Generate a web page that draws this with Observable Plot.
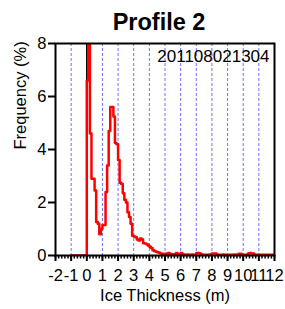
<!DOCTYPE html>
<html>
<head>
<meta charset="utf-8">
<script src="https://cdn.jsdelivr.net/npm/d3@7"></script>
<script src="https://cdn.jsdelivr.net/npm/@observablehq/plot@0.6"></script>
<style>
  html, body { margin: 0; padding: 0; background: white; }
</style>
</head>
<body>
<div id="chart"></div>
<script>
// ---- data ----
const title = "Profile 2";
const stamp = "201108021304";
const xLabel = "Ice Thickness (m)";
const yLabel = "Frequency (%)";
const xTicks = [-2, -1, 0, 1, 2, 3, 4, 5, 6, 7, 8, 9, 10, 11, 12];
const yTicks = [0, 2, 4, 6, 8];
const gridX = [-1, 0, 1, 2, 3, 4, 5, 6, 7, 8, 9, 10, 11];
// histogram: bin width 0.1 m, bins starting at 0.0 m
const binStart = 0;
const binWidth = 0.1;
const freq = [
  6.6, 9.5, 4.6, 2.9, 2.9, 2.45, 1.26, 1.2, 0.8, 1.0,      // 0.0 - 0.9
  1.15, 1.15, 2.4, 3.4, 4.7, 5.6, 5.6, 5.25, 4.25, 4.2,    // 1.0 - 1.9
  3.6, 2.75, 2.7, 2.35, 2.1, 2.0, 1.63, 1.45, 1.2, 0.75,   // 2.0 - 2.9
  0.72, 0.69, 0.6, 0.57, 0.64, 0.6, 0.46, 0.45, 0.42, 0.38,// 3.0 - 3.9
  0.33, 0.28, 0.2, 0.17, 0.14, 0.12, 0.1, 0.08, 0.07, 0.06,// 4.0 - 4.9
  0.07, 0.08, 0.09, 0.06, 0.05, 0.04, 0.05, 0.09, 0.05, 0.04,// 5.0 - 5.9
  0.09, 0.05, 0.04, 0.03, 0.04, 0.03, 0.03, 0.04, 0.03, 0.03,// 6.0 - 6.9
  0.09, 0.09, 0.08, 0.04, 0.03, 0.03, 0.03, 0.03, 0.04, 0.03,// 7.0 - 7.9
  0.08, 0.08, 0.08, 0.04, 0.03, 0.03, 0.03, 0.04, 0.03, 0.03,// 8.0 - 8.9
  0.03, 0.03, 0.03, 0.03, 0.04, 0.03, 0.03, 0.07, 0.07, 0.04,// 9.0 - 9.9
  0.03, 0.03, 0.03, 0.08, 0.09, 0.08, 0.08, 0.04, 0.03, 0.03,// 10.0 - 10.9
  0.03, 0.03, 0.03, 0.03, 0.03, 0.03, 0.03, 0.03, 0.03, 0.03 // 11.0 - 11.9
];
const zeroStart = -1; // series drawn at zero from -1 m to 0 m

// ---- build table ----
const data = [{x: zeroStart, y: 0}];
freq.forEach((v, i) => data.push({x: +(binStart + i * binWidth).toFixed(2), y: v}));
data.push({x: +(binStart + freq.length * binWidth).toFixed(2), y: freq[freq.length - 1]});

const minorX = d3.range(-2, 12.0001, 0.2).map(d => +d.toFixed(2));

const chart = Plot.plot({
  width: 285,
  height: 309,
  marginLeft: 55,
  marginRight: 11,
  marginTop: 43,
  marginBottom: 54,
  style: {fontFamily: "'Liberation Sans', Arial, sans-serif", fontSize: "16px", background: "white", color: "black", overflow: "visible"},
  x: {domain: [-2, 12]},
  y: {domain: [0, 8]},
  marks: [
    Plot.ruleX(gridX, {stroke: "#7070ff", strokeWidth: 1, strokeDasharray: "3,2"}),
    Plot.ruleX([0], {y1: 0, y2: 8, stroke: "black", strokeWidth: 1.5}),
    Plot.line(data, {x: "x", y: "y", curve: "step-after", stroke: "#ff0000", strokeWidth: 2.5, clip: true}),
    Plot.frame({stroke: "black", strokeWidth: 2}),
    Plot.axisX({ticks: minorX, tickSize: 3.5, tickFormat: () => "", label: null, strokeWidth: 1.5}),
    Plot.axisX({ticks: xTicks, tickSize: 6, tickPadding: 8, tickFormat: d => String(d), label: null, strokeWidth: 2, fontSize: 16.5}),
    Plot.axisY({ticks: yTicks, tickSize: 7, tickPadding: 2, tickFormat: d => String(d), label: null, strokeWidth: 2, fontSize: 16.5}),
    Plot.text([title], {frameAnchor: "top", dy: -21, dx: -6, fontSize: 23.5, fontWeight: "bold", lineAnchor: "middle", fill: "black"}),
    Plot.text([stamp], {frameAnchor: "top-right", textAnchor: "end", dx: -5, dy: 13, fontSize: 17, lineAnchor: "middle", fill: "black"}),
    Plot.text([xLabel], {frameAnchor: "bottom", dy: 40, fontSize: 16.5, lineAnchor: "middle", fill: "black"}),
    Plot.text([yLabel], {frameAnchor: "left", dx: -35, rotate: -90, fontSize: 16.5, lineAnchor: "middle", fill: "black"})
  ]
});
document.getElementById("chart").appendChild(chart);
</script>
</body>
</html>
